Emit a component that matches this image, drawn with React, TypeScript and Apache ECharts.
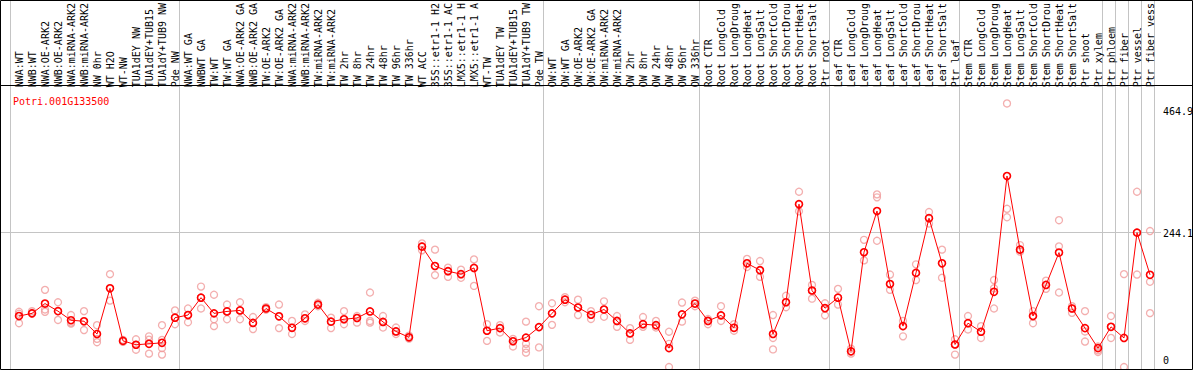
import { useEffect, useRef } from "react";
import * as echarts from "echarts";

const geneId = "Potri.001G133500";

const categories = [
  "NWA:WT", "NWB:WT", "NWA:OE-ARK2", "NWB:OE-ARK2", "NWA:miRNA-ARK2", "NWB:miRNA-ARK2", "NW 0hr", "WT H2O", "WT-NW", "TUA1dEY NW", "TUA1dEY+TUB15", "TUA1dY+TUB9 NW", "Pde NW",
  "NWA:WT GA", "NWBWT GA", "TW:WT", "TW:WT GA", "NWA:OE-ARK2 GA", "NWB:OE-ARK2 GA", "TW:OE-ARK2", "TW:OE-ARK2 GA", "NWA:miRNA-ARK2", "NWB:miRNA-ARK2", "TW:miRNA-ARK2", "TW:miRNA-ARK2", "TW 2hr", "TW 8hr", "TW 24hr", "TW 48hr", "TW 96hr", "TW 336hr", "WT ACC", "35S::etr1-1 H2", "35S::etr1-1 AC", "LMX5::etr1-1 H", "LMX5::etr1-1 A", "WT-TW", "TUA1dEY TW", "TUA1dEY+TUB15", "TUA1dY+TUB9 TW", "Pde TW",
  "OW:WT", "OW:WT GA", "OW:OE-ARK2", "OW:OE-ARK2 GA", "OW:miRNA-ARK2", "OW:miRNA-ARK2", "OW 2hr", "OW 8hr", "OW 24hr", "OW 48hr", "OW 96hr", "OW 336hr",
  "Root CTR", "Root LongCold", "Root LongDroug", "Root LongHeat", "Root LongSalt", "Root ShortCold", "Root ShortDrou", "Root ShortHeat", "Root ShortSalt", "Ptr root",
  "Leaf CTR", "Leaf LongCold", "Leaf LongDroug", "Leaf LongHeat", "Leaf LongSalt", "Leaf ShortCold", "Leaf ShortDrou", "Leaf ShortHeat", "Leaf ShortSalt", "Ptr leaf",
  "Stem CTR", "Stem LongCold", "Stem LongDroug", "Stem LongHeat", "Stem LongSalt", "Stem ShortCold", "Stem ShortDrou", "Stem ShortHeat", "Stem ShortSalt", "Ptr shoot", "Ptr xylem",
  "Ptr phloem", "Ptr fiber", "Ptr vessel", "Ptr fiber vess",
];

const meanValues = [
  92.0, 96.8, 114.5, 100.8, 84.4, 82.6, 59.6, 142.0, 47.2, 40.2, 41.9, 43.7, 89.0,
  93.8, 125.1, 96.8, 100.3, 102.1, 79.6, 105.6, 91.5, 70.8, 87.9, 112.7, 81.9, 86.2, 88.5, 100.3, 81.4, 64.2, 53.6, 217.1, 182.2, 172.8, 167.5, 178.7, 65.5, 70.2, 46.5, 53.1, 72.0,
  96.8, 121.5, 107.4, 94.3, 103.8, 83.1, 60.7, 77.3, 75.5, 34.1, 95.0, 114.5,
  83.1, 93.2, 70.8, 187.0, 174.6, 59.6, 116.8, 293.7, 138.0, 106.1,
  125.1, 28.3, 207.0, 281.3, 149.8, 73.8, 169.8, 268.4, 187.0, 40.7,
  79.1, 63.7, 135.7, 344.4, 211.7, 92.0, 148.1, 206.4, 105.6, 70.2, 34.1,
  72.5, 52.5, 242.4, 166.3,
];

const replicates = [
  [99.6, 96.1, 79.1], [100.8, 97.8, 96.1], [139.2, 103.8, 99.6], [116.8, 100.8, 84.9], [93.8, 80.1, 78.4],
  [100.8, 82.6, 66.7], [75.5, 50.8, 44.8], [167.5, 142.0, 119.8], [49.0, 47.2, 45.5], [50.1, 40.2, 31.3],
  [55.4, 49.5, 24.2], [75.5, 49.0, 34.1, 22.5], [102.1, 89.0, 77.3],
  [105.6, 93.8, 80.8], [145.1, 125.1, 105.6], [130.4, 86.2, 73.8], [112.7, 100.3, 86.2], [116.8, 102.1, 86.2],
  [90.2, 79.6, 68.5], [107.9, 105.6, 103.3], [112.7, 91.5, 70.2], [83.1, 70.8, 59.6], [95.0, 87.9, 83.1],
  [115.9, 112.7, 109.7], [89.0, 81.9, 70.2], [100.8, 86.2, 77.3], [92.0, 88.5, 80.1], [134.4, 83.1, 80.1],
  [92.0, 81.4, 71.3], [71.3, 64.2, 59.6], [56.6, 53.6, 51.3], [222.9, 217.7, 210.5], [211.7, 182.2, 165.8],
  [179.2, 172.8, 162.7], [175.7, 167.5, 161.0], [194.1, 178.7, 146.3], [77.3, 65.5, 47.2], [75.5, 70.2, 62.4],
  [50.8, 46.5, 37.1], [81.9, 41.9, 33.1, 26.0], [109.7, 72.0, 35.4],
  [115.0, 96.8, 76.1], [126.1, 121.5, 116.8], [121.5, 107.4, 93.8], [100.8, 94.3, 86.7], [118.5, 103.8, 90.7],
  [92.0, 83.1, 72.5], [70.2, 60.7, 49.0], [90.2, 77.3, 72.5], [83.1, 75.5, 71.3], [63.7, 41.9, 0],
  [116.3, 95.0, 81.9], [119.8, 114.5, 109.7],
  [86.7, 83.1, 77.3], [109.7, 93.2, 83.1], [77.3, 70.8, 65.5], [195.1, 187.0, 180.4], [191.1, 174.6, 162.7],
  [93.8, 52.5, 31.8], [128.6, 116.8, 107.9], [316.1, 293.7, 280.8], [148.1, 138.0, 123.3], [115.0, 106.1, 93.2],
  [141.0, 125.1, 112.7], [33.1, 28.3, 24.2], [229.4, 207.0, 192.3], [311.3, 306.0, 227.7], [166.8, 149.8, 139.2],
  [83.1, 73.8, 55.4], [185.2, 169.8, 156.9], [279.5, 268.4, 258.8], [211.7, 187.0, 161.0], [50.1, 40.7, 22.5],
  [92.0, 79.1, 67.8], [73.8, 63.7, 52.5], [156.9, 142.0, 105.6], [475.3, 285.3, 270.1], [219.9, 211.7, 208.2],
  [100.8, 92.0, 79.1], [155.7, 148.1, 141.0], [264.8, 217.6, 134.4], [109.7, 105.6, 97.8], [100.8, 64.2, 46.0],
  [37.1, 30.1, 27.1],
  [92.0, 72.5, 52.5], [167.5, 0], [316.1, 242.4, 166.8], [245.2, 153.8, 97.2],
];

// indices where a new sample group begins (last one = end of data)
const groupBoundaries = [0, 13, 41, 53, 63, 73, 84, 85, 86, 87, 88];
const yTickValues = [464.9, 244.1, 0];
const yGridValue = 244.1;
const Y_MIN = -3.5;
const Y_MAX = 499;

const FONT = "DejaVu Sans Mono";

export default function App() {
  const ref = useRef<HTMLDivElement>(null);

  useEffect(() => {
    document.body.style.margin = "0";
    const el = ref.current!;
    const chart = echarts.init(el, null, { renderer: "svg" });

    const scatterData: number[][] = [];
    replicates.forEach((arr, i) => arr.forEach((v) => scatterData.push([i, v])));

    chart.setOption({
      animation: false,
      title: {
        text: geneId,
        left: 8,
        top: 91,
        textStyle: { color: "#ff0000", fontSize: 10, fontWeight: "normal", fontFamily: FONT },
      },
      grid: { left: 12.5, right: 37.5, top: 85, bottom: 1 },
      xAxis: {
        type: "category",
        position: "top",
        data: categories,
        boundaryGap: true,
        axisLine: { show: false },
        axisTick: { show: false },
        splitLine: { show: false },
        axisLabel: {
          interval: 0,
          rotate: 90,
          margin: 3,
          fontSize: 10,
          fontFamily: FONT,
          color: "#000",
        },
      },
      yAxis: { type: "value", min: Y_MIN, max: Y_MAX, show: false },
      series: [
        {
          type: "scatter",
          data: scatterData,
          symbol: "circle",
          symbolSize: 7,
          silent: true,
          z: 2,
          itemStyle: { color: "transparent", borderColor: "#f09a9a", borderWidth: 1.3 },
        },
        {
          type: "line",
          data: meanValues,
          symbol: "circle",
          symbolSize: 7,
          showAllSymbol: true,
          silent: true,
          z: 3,
          lineStyle: { color: "#ff0000", width: 1 },
          itemStyle: { color: "transparent", borderColor: "#ff0000", borderWidth: 1.6 },
        },
      ],
    });

    const c0 = chart.convertToPixel({ xAxisIndex: 0 }, 0) as number;
    const c1 = chart.convertToPixel({ xAxisIndex: 0 }, 1) as number;
    const step = c1 - c0;
    const W = 1194;
    const bottomY = 369.5;

    const elements: any[] = [];
    groupBoundaries.forEach((b) => {
      const x = Math.round(c0 + step * b - step * 0.654) + 0.5;
      elements.push({
        type: "line",
        z: 0,
        silent: true,
        shape: { x1: x, y1: 0, x2: x, y2: bottomY },
        style: { stroke: "#c4c4c4", lineWidth: 1 },
      });
    });
    const gy = Math.round(chart.convertToPixel({ yAxisIndex: 0 }, yGridValue) as number) + 0.5;
    elements.push({
      type: "line",
      z: 0,
      silent: true,
      shape: { x1: 1, y1: gy, x2: 1161, y2: gy },
      style: { stroke: "#c4c4c4", lineWidth: 1 },
    });
    yTickValues.forEach((v) => {
      const py = chart.convertToPixel({ yAxisIndex: 0 }, v) as number;
      const top = Math.min(py - 3, 355);
      elements.push({
        type: "text",
        z: 5,
        silent: true,
        x: 1163,
        y: top,
        style: { text: String(v), fill: "#000", font: `10px "${FONT}"`, textVerticalAlign: "top", verticalAlign: "top" },
      });
    });
    // frame
    elements.push({
      type: "rect",
      z: 6,
      silent: true,
      shape: { x: 0.5, y: 0.5, width: 1192, height: bottomY - 0.5 },
      style: { fill: "none", stroke: "#000", lineWidth: 1 },
    });
    elements.push({
      type: "line",
      z: 6,
      silent: true,
      shape: { x1: 0, y1: 85.5, x2: W - 1, y2: 85.5 },
      style: { stroke: "#000", lineWidth: 1 },
    });

    chart.setOption({ graphic: { elements } });

    return () => chart.dispose();
  }, []);

  return (
    <div
      ref={ref}
      style={{ position: "absolute", left: 0, top: 0, width: 1194, height: 370, background: "#fff" }}
    />
  );
}
